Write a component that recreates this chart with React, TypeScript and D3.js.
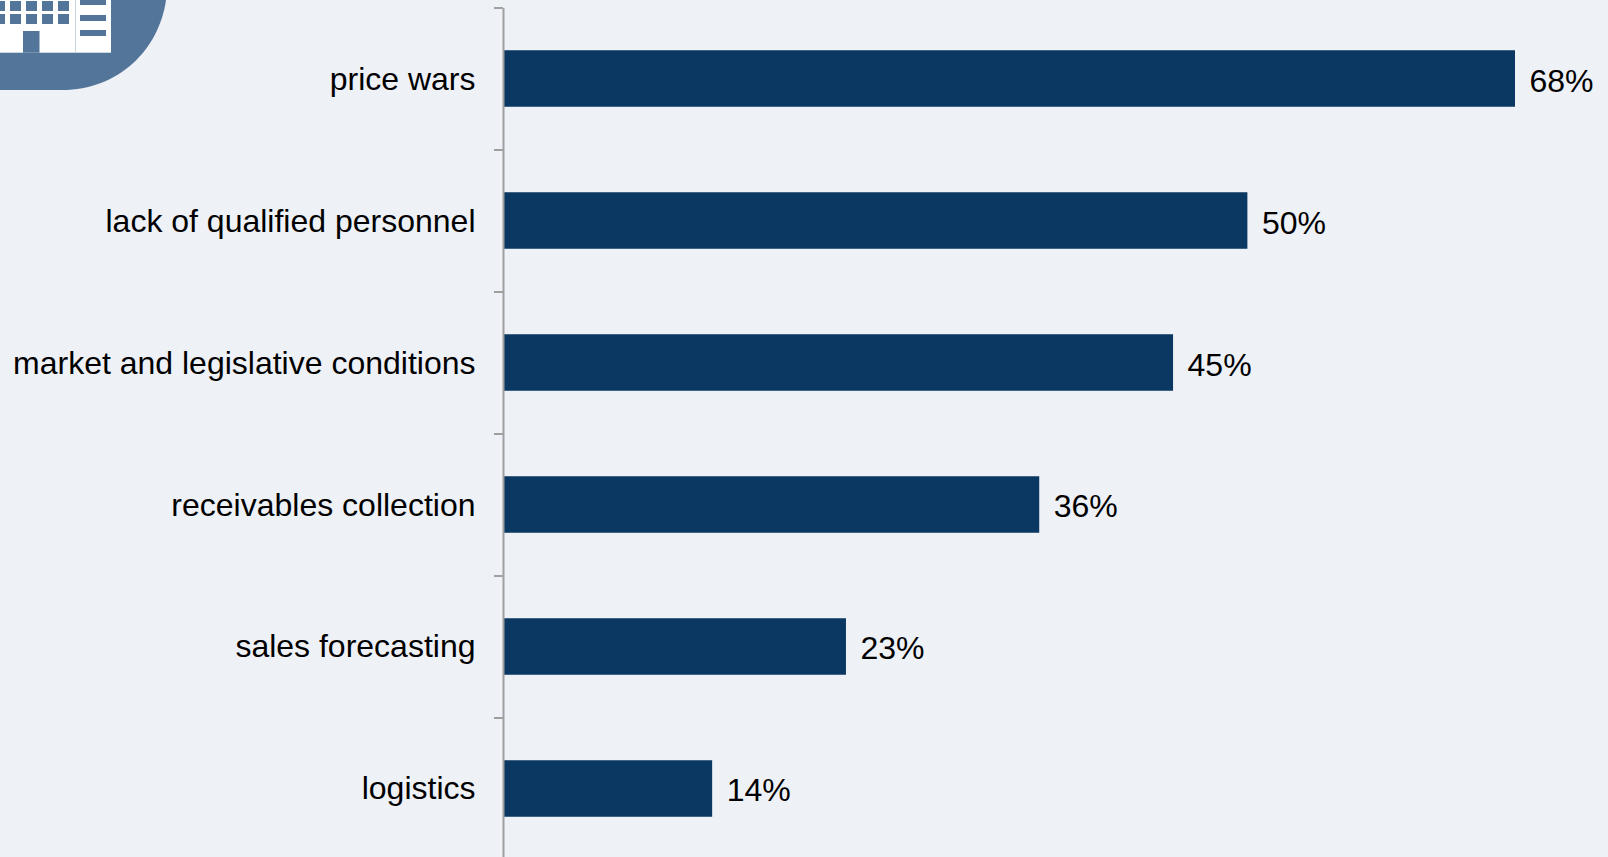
import React from "react";
import * as d3 from "d3";

const categories = [
  "price wars",
  "lack of qualified personnel",
  "market and legislative conditions",
  "receivables collection",
  "sales forecasting",
  "logistics",
];
const shares = [68, 50, 45, 36, 23, 14];

// Window grid and wing stripes of the building emblem
const windowCols = [-6, 10, 26, 42, 58];
const windowRows = [1, 14];
const wingStripes = [-1, 15, 30];

const WIDTH = 1608;
const HEIGHT = 857;
const FONT = "'Liberation Sans', Arial, sans-serif";
const BG = "#EEF1F6";
const BAR = "#0A3862";
const AXIS = "#A0A0A0";
const EMBLEM = "#53759A";

const x = d3.scaleLinear().domain([0, 68]).range([504, 1515]);
const y = d3.scaleBand<string>().domain(categories).range([7.5, 859.5]).paddingInner(0.602).paddingOuter(0.301);

function Emblem() {
  const blob = d3.path();
  blob.moveTo(0, -10);
  blob.lineTo(166, -10);
  blob.lineTo(166, 0);
  blob.bezierCurveTo(159, 50, 118, 90, 62, 90);
  blob.lineTo(0, 90);
  blob.closePath();
  return (
    <g>
      <path d={blob.toString()} fill={EMBLEM} />
      <rect x={0} y={-10} width={111} height={62.7} fill="#FFFFFF" />
      <rect x={75} y={-10} width={1} height={62.7} fill="#CBD5E0" />
      {windowRows.flatMap((r) =>
        windowCols.map((c) => <rect key={`${r}-${c}`} x={c} y={r} width={11} height={10} fill={EMBLEM} />)
      )}
      <rect x={23} y={31} width={16.5} height={21.7} fill={EMBLEM} />
      {wingStripes.map((s) => (
        <rect key={s} x={80} y={s} width={26} height={6} fill={EMBLEM} />
      ))}
    </g>
  );
}

export default function App() {
  const step = y.step();
  const ticks = d3.range(categories.length + 1).map((i) => 8 + i * step);
  return (
    <svg
      width={WIDTH}
      height={HEIGHT}
      viewBox={`0 0 ${WIDTH} ${HEIGHT}`}
      style={{ position: "absolute", left: 0, top: 0, display: "block", background: BG }}
      fontFamily={FONT}
    >
      <Emblem />
      {categories.map((c, i) => (
        <g key={c}>
          <rect x={x(0)} y={y(c)} width={x(shares[i]) - x(0)} height={y.bandwidth()} fill={BAR} />
          <text x={475.5} y={y(c)! + y.bandwidth() / 2 + 11.7 - i * 0.2} textAnchor="end" fontSize={32} fill="#000">
            {c}
          </text>
          <text x={x(shares[i]) + 14.5} y={y(c)! + y.bandwidth() / 2 + 13.5 - i * 0.2} fontSize={32} fill="#000">
            {shares[i]}%
          </text>
        </g>
      ))}
      <line x1={503.5} x2={503.5} y1={8} y2={HEIGHT} stroke={AXIS} strokeWidth={2} />
      {ticks.map((t) => (
        <line key={t} x1={494} x2={503} y1={t} y2={t} stroke={AXIS} strokeWidth={2} />
      ))}
    </svg>
  );
}
